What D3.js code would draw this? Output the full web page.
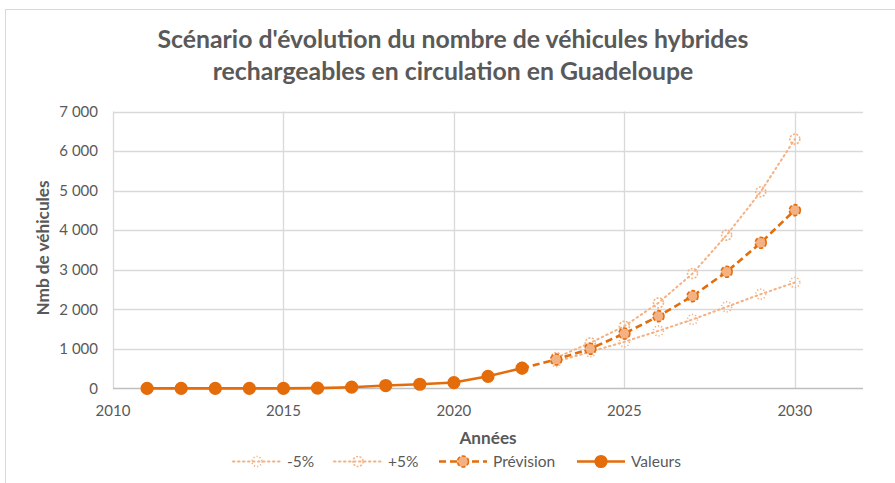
<!DOCTYPE html>
<html lang="fr">
<head>
<meta charset="UTF-8">
<title>Véhicules hybrides rechargeables</title>
<style>
  body { margin: 0; background: #fff; }
  text { font-family: Lato, "Open Sans", sans-serif; fill: #595959; }
</style>
</head>
<body>
<svg id="chart" width="895" height="483"></svg>
<script src="https://cdn.jsdelivr.net/npm/d3@7/dist/d3.min.js"></script>
<script>
// data
var yearsValeurs = [2011, 2012, 2013, 2014, 2015, 2016, 2017, 2018, 2019, 2020, 2021, 2022];
var valeurs = [2, 2, 2, 3, 4, 9, 33, 75, 108, 150, 308, 515];

var yearsPrev = [2022, 2023, 2024, 2025, 2026, 2027, 2028, 2029, 2030];
var prevision = [515, 733, 1003, 1390, 1828, 2334, 2949, 3682, 4507];

var yearsScen = [2023, 2024, 2025, 2026, 2027, 2028, 2029, 2030];
var moins5 = [680, 927, 1179, 1457, 1744, 2064, 2384, 2679];
var plus5 = [780, 1154, 1575, 2165, 2906, 3875, 4971, 6302];

var xTicks = [2010, 2015, 2020, 2025, 2030];
var yTicks = [0, 1000, 2000, 3000, 4000, 5000, 6000, 7000];

var dark = "#E46C0A", light = "#F4B183";

var svg = d3.select("#chart");

// chart border
svg.append("rect").attr("x", 5.5).attr("y", 9.5).attr("width", 900).attr("height", 500)
  .attr("fill", "none").attr("stroke", "#d9d9d9");

var x = d3.scaleLinear().domain([2010, 2032]).range([113, 863]);
var y = d3.scaleLinear().domain([0, 7000]).range([388.5, 111.5]);

// horizontal grid
svg.append("g").selectAll("line").data(yTicks.slice(1)).join("line")
  .attr("x1", x(2010)).attr("x2", x(2032))
  .attr("y1", d => Math.round(y(d)) + 0.5).attr("y2", d => Math.round(y(d)) + 0.5)
  .attr("stroke", "#d9d9d9").attr("stroke-width", 1.3);

// vertical grid
svg.append("g").selectAll("line").data(xTicks).join("line")
  .attr("x1", d => Math.round(x(d)) + 0.5).attr("x2", d => Math.round(x(d)) + 0.5)
  .attr("y1", y(7000)).attr("y2", y(0))
  .attr("stroke", "#d9d9d9").attr("stroke-width", 1.3);

// x axis line
svg.append("line").attr("x1", x(2010)).attr("x2", x(2032))
  .attr("y1", y(0)).attr("y2", y(0)).attr("stroke", "#bfbfbf").attr("stroke-width", 1.5);

var fmt = d => d >= 1000 ? Math.floor(d / 1000) + " 000" : String(d);

svg.append("g").selectAll("text").data(yTicks).join("text")
  .attr("x", 98).attr("y", d => y(d)).attr("dy", "0.35em")
  .attr("text-anchor", "end").attr("font-size", 15)
  .text(fmt);

svg.append("g").selectAll("text").data(xTicks).join("text")
  .attr("x", d => x(d)).attr("y", 411).attr("dy", "0.35em")
  .attr("text-anchor", "middle").attr("font-size", 15)
  .text(d => d);

// titles
svg.append("text").attr("x", 453).attr("y", 48).attr("text-anchor", "middle")
  .attr("font-size", 24.8).attr("font-weight", "bold")
  .text("Scénario d'évolution du nombre de véhicules hybrides");
svg.append("text").attr("x", 453).attr("y", 80).attr("text-anchor", "middle")
  .attr("font-size", 24.8).attr("font-weight", "bold")
  .text("rechargeables en circulation en Guadeloupe");

svg.append("text").attr("x", 488).attr("y", 444).attr("text-anchor", "middle")
  .attr("font-size", 17.2).attr("font-weight", "bold").text("Années");

svg.append("text").attr("transform", "translate(49,248) rotate(-90)")
  .attr("text-anchor", "middle").attr("font-size", 17.2).attr("font-weight", "bold")
  .text("Nmb de véhicules");

var line = d3.line().x(d => x(d[0])).y(d => y(d[1]));

function pairs(xs, vs) { return xs.map((d, i) => [d, vs[i]]); }

var series = [
  { name: "-5%", data: pairs(yearsScen, moins5), color: light, width: 2, dash: "1.5,3.5", cap: "round",
    mFill: "none", mStroke: light, mDash: "1.2,2", r: 5 },
  { name: "+5%", data: pairs(yearsScen, plus5), color: light, width: 2, dash: "1.5,3.5", cap: "round",
    mFill: "none", mStroke: light, mDash: "2,1.5", r: 5 },
  { name: "Prévision", data: pairs(yearsPrev, prevision), color: dark, width: 2.6, dash: "7,4", cap: "butt",
    mFill: light, mStroke: dark, mDash: "4,2", r: 5.5 },
  { name: "Valeurs", data: pairs(yearsValeurs, valeurs), color: dark, width: 2.6, dash: null, cap: "butt",
    mFill: dark, mStroke: dark, mDash: null, r: 5.8 }
];

series.forEach(s => {
  var g = svg.append("g");
  g.append("path").datum(s.data).attr("d", line)
    .attr("fill", "none").attr("stroke", s.color).attr("stroke-width", s.width)
    .attr("stroke-dasharray", s.dash).attr("stroke-linecap", s.cap);
  g.selectAll("circle").data(s.data).join("circle")
    .attr("cx", d => x(d[0])).attr("cy", d => y(d[1])).attr("r", s.r)
    .attr("fill", s.mFill).attr("stroke", s.mStroke).attr("stroke-width", 1.6)
    .attr("stroke-dasharray", s.mDash);
});

// legend
var legendX = [233, 334, 439, 577];
var leg = svg.append("g");
series.forEach((s, i) => {
  var lx = legendX[i], ly = 461.5;
  leg.append("line").attr("x1", lx).attr("x2", lx + 48).attr("y1", ly).attr("y2", ly)
    .attr("stroke", s.color).attr("stroke-width", s.width)
    .attr("stroke-dasharray", s.dash).attr("stroke-linecap", s.cap);
  leg.append("circle").attr("cx", lx + 24).attr("cy", ly).attr("r", s.r)
    .attr("fill", s.mFill).attr("stroke", s.mStroke).attr("stroke-width", 1.6)
    .attr("stroke-dasharray", s.mDash);
  leg.append("text").attr("x", lx + 54).attr("y", ly).attr("dy", "0.35em")
    .attr("font-size", 15.5).text(s.name);
});
</script>
</body>
</html>
